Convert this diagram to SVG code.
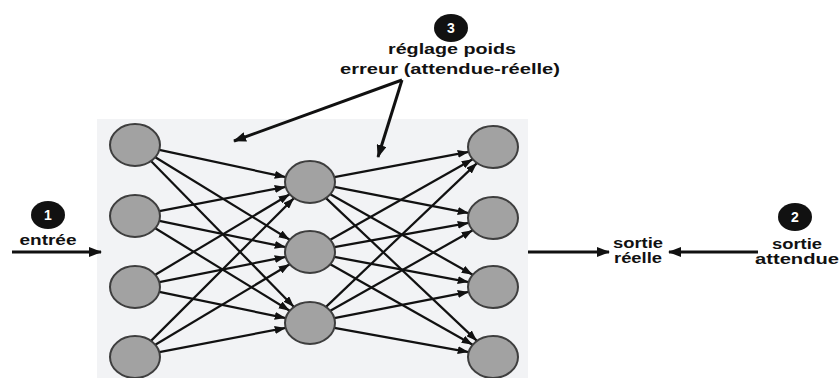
<svg xmlns="http://www.w3.org/2000/svg" width="840" height="378" viewBox="0 0 840 378">
<style>
.node{fill:#a2a2a2;stroke:#3e3e3e;stroke-width:2}
.edge{stroke:#111;stroke-width:2.2;fill:none;marker-end:url(#ah)}
.big{stroke:#111;stroke-width:3;fill:none;marker-end:url(#ahb)}
.lbl{font-family:"Liberation Sans",Arial,sans-serif;font-weight:bold;font-size:14px;fill:#111;text-anchor:middle}
.num{font-family:"Liberation Sans",Arial,sans-serif;font-weight:bold;font-size:14px;fill:#fff;text-anchor:middle}
.badge{fill:#111}
</style>
<defs>
<marker id="ah" markerUnits="userSpaceOnUse" markerWidth="11" markerHeight="8" refX="11" refY="4" orient="auto">
<path d="M0,0 L11,4 L0,8 z" fill="#111"/>
</marker>
<marker id="ahb" markerUnits="userSpaceOnUse" markerWidth="13" markerHeight="10" refX="12" refY="5" orient="auto">
<path d="M0,0 L13,5 L0,10 z" fill="#111"/>
</marker>
</defs>
<rect width="840" height="378" fill="#ffffff"/>
<rect x="97" y="119" width="431" height="259" fill="#f2f3f5"/>
<g id="connectors">
<line class="edge" x1="159.3" y1="149.9" x2="285.7" y2="177.1"/>
<line class="edge" x1="155.3" y1="157.3" x2="289.7" y2="239.7"/>
<line class="edge" x1="151" y1="161.1" x2="294" y2="306.9"/>
<line class="edge" x1="159.3" y1="211.1" x2="285.7" y2="186.9"/>
<line class="edge" x1="159.3" y1="220.9" x2="285.7" y2="247.1"/>
<line class="edge" x1="155.3" y1="228.3" x2="289.7" y2="310.7"/>
<line class="edge" x1="155.3" y1="274.7" x2="289.7" y2="194.3"/>
<line class="edge" x1="159.3" y1="282.1" x2="285.7" y2="256.9"/>
<line class="edge" x1="159.3" y1="291.9" x2="285.7" y2="318.1"/>
<line class="edge" x1="151" y1="340.9" x2="294" y2="198.1"/>
<line class="edge" x1="155.3" y1="344.7" x2="289.7" y2="264.3"/>
<line class="edge" x1="159.3" y1="352.1" x2="285.7" y2="327.9"/>
<line class="edge" x1="334.3" y1="177.1" x2="468.7" y2="151.9"/>
<line class="edge" x1="334.3" y1="186.9" x2="468.7" y2="213.1"/>
<line class="edge" x1="330.3" y1="194.3" x2="472.7" y2="274.7"/>
<line class="edge" x1="326" y1="198.1" x2="477" y2="340.9"/>
<line class="edge" x1="330.3" y1="239.7" x2="472.7" y2="159.3"/>
<line class="edge" x1="334.3" y1="247.1" x2="468.7" y2="222.9"/>
<line class="edge" x1="334.3" y1="256.9" x2="468.7" y2="282.1"/>
<line class="edge" x1="330.3" y1="264.3" x2="472.7" y2="344.7"/>
<line class="edge" x1="326" y1="306.9" x2="477" y2="163.1"/>
<line class="edge" x1="330.3" y1="310.7" x2="472.7" y2="230.3"/>
<line class="edge" x1="334.3" y1="318.1" x2="468.7" y2="291.9"/>
<line class="edge" x1="334.3" y1="327.9" x2="468.7" y2="352.1"/>
<line class="big" x1="12" y1="252" x2="101" y2="252"/>
<line class="big" x1="528" y1="252" x2="609" y2="252"/>
<line class="big" x1="758" y1="252" x2="669" y2="252"/>
<line class="big" x1="402" y1="80" x2="234" y2="141"/>
<line class="big" x1="402" y1="80" x2="378" y2="157"/>
</g>
<g id="in1"><ellipse class="node" cx="135" cy="145" rx="25" ry="21"/></g>
<g id="in2"><ellipse class="node" cx="135" cy="216" rx="25" ry="21"/></g>
<g id="in3"><ellipse class="node" cx="135" cy="287" rx="25" ry="21"/></g>
<g id="in4"><ellipse class="node" cx="135" cy="357" rx="25" ry="21"/></g>
<g id="h1"><ellipse class="node" cx="310" cy="182" rx="25" ry="21"/></g>
<g id="h2"><ellipse class="node" cx="310" cy="252" rx="25" ry="21"/></g>
<g id="h3"><ellipse class="node" cx="310" cy="323" rx="25" ry="21"/></g>
<g id="out1"><ellipse class="node" cx="493" cy="147" rx="25" ry="21"/></g>
<g id="out2"><ellipse class="node" cx="493" cy="218" rx="25" ry="21"/></g>
<g id="out3"><ellipse class="node" cx="493" cy="287" rx="25" ry="21"/></g>
<g id="out4"><ellipse class="node" cx="493" cy="357" rx="25" ry="21"/></g>
<g id="step3">
<ellipse class="badge" cx="451" cy="28" rx="17" ry="14"/>
<text class="num" x="451" y="33">3</text>
<text class="lbl" x="452" y="54" textLength="128" lengthAdjust="spacingAndGlyphs">réglage poids</text>
<text class="lbl" x="450" y="74" textLength="220" lengthAdjust="spacingAndGlyphs">erreur (attendue-réelle)</text>
</g>
<g id="step1">
<ellipse class="badge" cx="48" cy="215" rx="17" ry="14"/>
<text class="num" x="48" y="220">1</text>
<text class="lbl" x="48" y="245" textLength="57" lengthAdjust="spacingAndGlyphs">entrée</text>
</g>
<g id="reelle">
<text class="lbl" x="638" y="248" textLength="50" lengthAdjust="spacingAndGlyphs">sortie</text>
<text class="lbl" x="638" y="263" textLength="48" lengthAdjust="spacingAndGlyphs">réelle</text>
</g>
<g id="step2">
<ellipse class="badge" cx="795" cy="217" rx="17" ry="14"/>
<text class="num" x="795" y="222">2</text>
<text class="lbl" x="797" y="249" textLength="50" lengthAdjust="spacingAndGlyphs">sortie</text>
<text class="lbl" x="797" y="264" textLength="84" lengthAdjust="spacingAndGlyphs">attendue</text>
</g>
</svg>
